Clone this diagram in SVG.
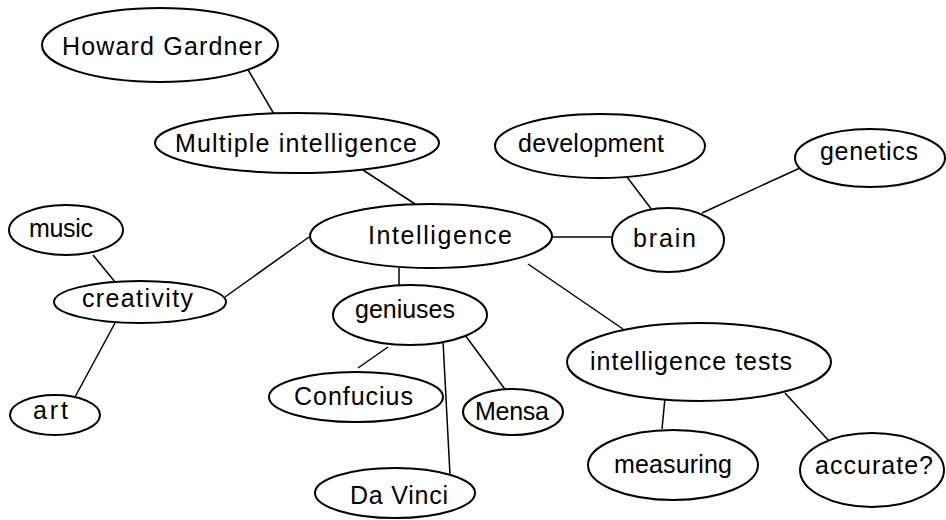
<svg xmlns="http://www.w3.org/2000/svg" width="946" height="520" viewBox="0 0 946 520">
<style>
.n ellipse{fill:#fff;stroke:#000;stroke-width:2}
.n text{font-family:"Liberation Sans","DejaVu Sans",sans-serif;font-size:25px;fill:#000}
#edges line{stroke:#000;stroke-width:1.5}
</style>
<rect width="946" height="520" fill="#fff"/>
<g id="edges">
<line x1="247" y1="68" x2="274" y2="114"/>
<line x1="363" y1="170" x2="415" y2="204"/>
<line x1="309" y1="237" x2="225" y2="297"/>
<line x1="93" y1="255" x2="115" y2="282"/>
<line x1="115" y1="323" x2="75" y2="397"/>
<line x1="399" y1="268" x2="399" y2="286"/>
<line x1="388" y1="347" x2="358" y2="368"/>
<line x1="443" y1="341" x2="450" y2="475"/>
<line x1="465" y1="335" x2="507" y2="392"/>
<line x1="528" y1="264" x2="623" y2="329"/>
<line x1="552" y1="237" x2="612" y2="237"/>
<line x1="627" y1="177" x2="652" y2="210"/>
<line x1="702" y1="213" x2="800" y2="168"/>
<line x1="665" y1="398" x2="662" y2="429"/>
<line x1="785" y1="393" x2="830" y2="442"/>
</g>
<g id="howard" class="n"><ellipse cx="160" cy="45" rx="118" ry="37"/><text x="62" y="55" textLength="200">Howard Gardner</text></g>
<g id="multiple" class="n"><ellipse cx="297" cy="143" rx="142" ry="30"/><text x="175" y="152" textLength="242">Multiple intelligence</text></g>
<g id="intelligence" class="n"><ellipse cx="431" cy="236" rx="121" ry="32"/><text x="368" y="244" textLength="144">Intelligence</text></g>
<g id="music" class="n"><ellipse cx="66" cy="230" rx="57" ry="25"/><text x="29" y="237" textLength="64">music</text></g>
<g id="creativity" class="n"><ellipse cx="140" cy="302" rx="86" ry="21"/><text x="82" y="307" textLength="111">creativity</text></g>
<g id="art" class="n"><ellipse cx="55" cy="415" rx="45" ry="20"/><text x="33" y="419" textLength="35">art</text></g>
<g id="geniuses" class="n"><ellipse cx="410" cy="315" rx="77" ry="30"/><text x="355" y="318" textLength="100">geniuses</text></g>
<g id="confucius" class="n"><ellipse cx="356" cy="397" rx="87" ry="25"/><text x="294" y="405" textLength="119">Confucius</text></g>
<g id="davinci" class="n"><ellipse cx="395" cy="493" rx="80" ry="25"/><text x="350" y="504" textLength="98">Da Vinci</text></g>
<g id="mensa" class="n"><ellipse cx="513" cy="412" rx="50" ry="23"/><text x="475" y="420" textLength="74">Mensa</text></g>
<g id="tests" class="n"><ellipse cx="699" cy="362" rx="132" ry="39"/><text x="590" y="370" textLength="202">intelligence tests</text></g>
<g id="measuring" class="n"><ellipse cx="673" cy="465" rx="85" ry="35"/><text x="614" y="473" textLength="118">measuring</text></g>
<g id="accurate" class="n"><ellipse cx="872" cy="470" rx="72" ry="37"/><text x="815" y="474" textLength="118">accurate?</text></g>
<g id="development" class="n"><ellipse cx="600" cy="146" rx="105" ry="32"/><text x="518" y="152" textLength="146">development</text></g>
<g id="genetics" class="n"><ellipse cx="870" cy="158" rx="75" ry="29"/><text x="820" y="160" textLength="98">genetics</text></g>
<g id="brain" class="n"><ellipse cx="668" cy="240" rx="56" ry="32"/><text x="633" y="247" textLength="63">brain</text></g>
</svg>
